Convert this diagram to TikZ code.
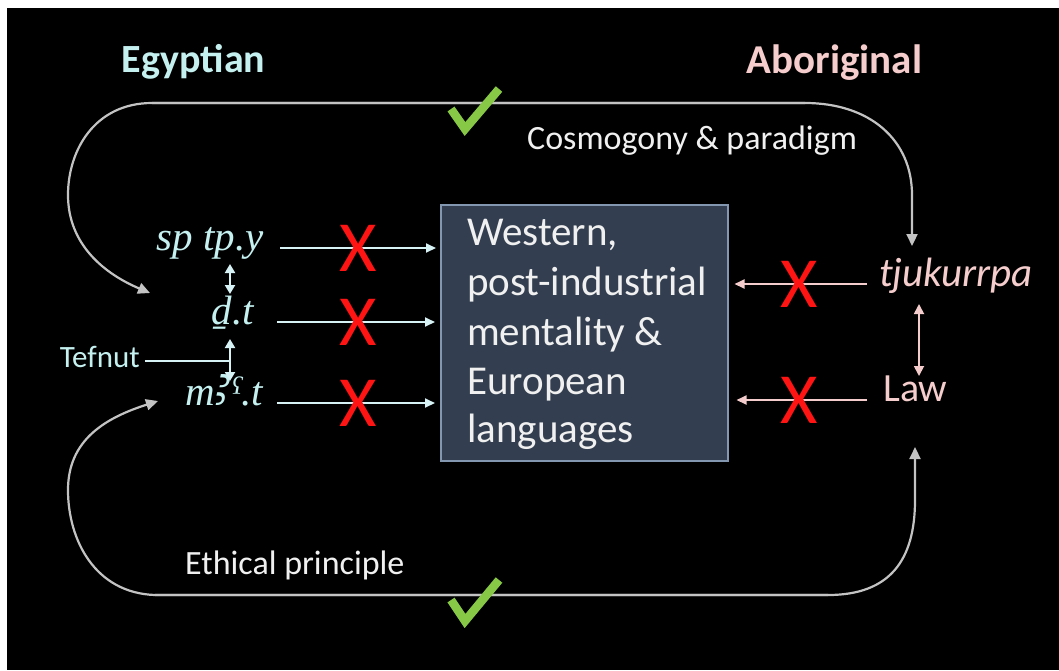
\documentclass[tikz,border=0pt]{standalone}
\usepackage{fontspec}
\setmainfont{Carlito}
\newfontfamily\serifit{Liberation Serif}
\newfontfamily\notos{Noto Sans}
\usetikzlibrary{arrows.meta,calc}
\definecolor{cyanT}{RGB}{197,240,240}
\definecolor{cyanL}{RGB}{215,242,245}
\definecolor{pinkT}{RGB}{245,205,205}
\definecolor{pinkL}{RGB}{244,204,204}
\definecolor{boxfill}{RGB}{51,63,80}
\definecolor{boxedge}{RGB}{132,151,176}
\definecolor{curvegray}{RGB}{195,195,195}
\definecolor{xred}{RGB}{255,20,20}
\definecolor{tickgreen}{RGB}{135,200,70}
\begin{document}
\begin{tikzpicture}[x=1pt,y=-1pt,
  title/.style={font=\fontsize{40}{48}\selectfont\bfseries, inner sep=0pt},
  sub/.style={font=\fontsize{34}{40}\selectfont, text=white!94!black, inner sep=0pt},
  egy/.style={font=\fontsize{41}{48}\selectfont\serifit\itshape, text=cyanT, inner sep=0pt, text height=0.7em, text depth=0.25em},
  boxtxt/.style={font=\fontsize{41}{48}\selectfont, text=white!94!black, inner sep=0pt},
  pinktxt/.style={font=\fontsize{40}{46}\selectfont, text=pinkT, inner sep=0pt},
  xmark/.style={font=\fontsize{72}{80}\selectfont, text=xred, inner sep=0pt},
  carr/.style={draw=cyanL, line width=1.8pt, -{Triangle[length=10pt,width=9pt]}},
  cdarr/.style={draw=cyanL, line width=2pt, {Triangle[length=9pt,width=10pt]}-{Triangle[length=9pt,width=10pt]}},
  parr/.style={draw=pinkL, line width=1.8pt, -{Triangle[length=10pt,width=9pt]}},
  pdarr/.style={draw=pinkL, line width=1.8pt, {Triangle[length=10pt,width=10pt]}-{Triangle[length=10pt,width=10pt]}},
  garr/.style={draw=curvegray, line width=2.2pt, -{Triangle[length=12pt,width=11pt]}},
  tick/.style={draw=tickgreen, line width=8.5pt, line cap=butt, line join=miter}
]
\useasboundingbox (0,0) rectangle (1059,670);
\fill[white] (0,0) rectangle (1059,670);
\fill[black] (7,8) rectangle (1059,670);

% titles
\node[title, text=cyanT, anchor=base] (egyptian) at (193.5,72) {Egyptian};
\node[title, text=pinkT, anchor=base, font=\fontsize{41}{48}\selectfont\bfseries] (aboriginal) at (834.5,73) {Aboriginal};

% central box
\node[draw=boxedge, fill=boxfill, line width=1.5pt, minimum width=287pt, minimum height=256pt, anchor=north west, inner sep=0pt] (box) at (440,204) {};
\node[boxtxt, anchor=base west] (b1) at (467,245) {Western,};
\node[boxtxt, anchor=base west] (b2) at (467,295) {post-industrial};
\node[boxtxt, anchor=base west] (b3) at (467,345) {mentality \&};
\node[boxtxt, anchor=base west] (b4) at (467,394) {European};
\node[boxtxt, anchor=base west] (b5) at (467,442) {languages};

% Egyptian terms
\node[egy, anchor=east] (sp) at (264,248) {sp tp.y};
\node[egy, anchor=east] (dt) at (254,322) {ḏ.t};
\node[egy, anchor=east] (mt) at (263,403) {m{\notos\itshape\fontsize{52}{48}\selectfont ꜣ}ˁ.t};
\node[font=\fontsize{31}{36}\selectfont, text=cyanT, inner sep=0pt, anchor=base east] (tef) at (140,367) {Tefnut};

% Aboriginal terms
\node[pinktxt, font=\fontsize{41}{46}\selectfont\itshape, anchor=west, text height=0.7em, text depth=0.25em] (tj) at (879,284) {tjukurrpa};
\node[pinktxt, anchor=west, text height=0.63em, text depth=0pt] (law) at (883,398) {Law};

% arrows into the box
\draw[carr] ($(sp.east)+(16,0)$) -- ($(box.west |- sp.east)+(-4,0)$);
\draw[carr] ($(dt.east)+(23,0)$) -- ($(box.west |- dt.east)+(-5,0)$);
\draw[carr] ($(mt.east)+(14,0)$) -- ($(box.west |- mt.east)+(-5,0)$);
\draw[parr] ($(tj.west)+(-12,0)$) -- ($(box.east |- tj.west)+(6,0)$);
\draw[parr] ($(law.west)+(-16,2)$) -- ($(box.east |- law.west)+(8,2)$);

% red crosses
\node[xmark] (x1) at (358,248) {X};
\node[xmark] (x2) at (358,322) {X};
\node[xmark] (x3) at (358,403) {X};
\node[xmark] (x4) at (799,284) {X};
\node[xmark] (x5) at (799,400) {X};

% vertical links
\coordinate (v1a) at (230,264); \coordinate (v1b) at (230,294);
\coordinate (v2a) at (230,339); \coordinate (v2b) at (230,381);
\draw[cdarr] (v1a) -- (v1b);
\draw[cdarr] (v2a) -- (v2b);
\coordinate (tfend) at (231,361);
\draw[draw=cyanL, line width=1.8pt] ($(tef.base east |- tfend)+(5,0)$) -- (tfend);
\coordinate (r1a) at (919,304); \coordinate (r1b) at (919,376);
\draw[pdarr] (r1a) -- (r1b);

% big loops
\coordinate (tl) at (150,293);
\coordinate (tr) at (912,246);
\coordinate (bl) at (158,401);
\coordinate (br) at (915,447);
\draw[garr] (805,103) -- (152,103) .. controls (95,103) and (68,150) .. (68,195) .. controls (68,245) and (105,274) .. (tl);
\draw[garr] (152,103) -- (805,103) .. controls (870,103) and (912,140) .. (912,195) -- (tr);
\draw[garr] (828,595) -- (155,595) .. controls (95,593) and (68,540) .. (68,490) .. controls (68,440) and (105,418) .. (bl);
\draw[garr] (155,595) -- (828,595) .. controls (890,595) and (915,560) .. (915,500) -- (br);

% labels on loops
\node[sub, anchor=base west] (cosmo) at (527,149) {Cosmogony \& paradigm};
\node[sub, anchor=base west] (ethic) at (185,574) {Ethical principle};

% ticks
\draw[tick] (451,109) -- (465,129) -- (499,89);
\draw[tick] (451,600) -- (465,621) -- (499,580);
\end{tikzpicture}
\end{document}
